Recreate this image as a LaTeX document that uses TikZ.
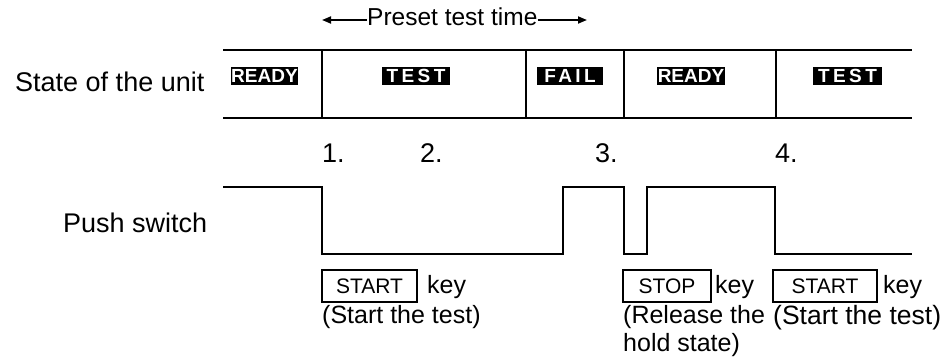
\documentclass[tikz,border=0pt]{standalone}
\usepackage{fontspec}
\setmainfont{Liberation Sans}
\newfontfamily\badgefont[LetterSpace=18]{Liberation Sans}
\usetikzlibrary{positioning,arrows.meta,calc}
\tikzset{
  % row captions on the left
  rowlabel/.style  = {font=\fontsize{27}{32}\selectfont, inner sep=0pt},
  % step numbers above the signal
  stepno/.style    = {font=\fontsize{27}{32}\selectfont, inner sep=0pt, anchor=base west},
  % black state badge
  badge/.style     = {fill=black, text=white, inner sep=0.5pt, minimum height=18pt,
                      font=\fontsize{19}{22}\selectfont\bfseries},
  spaced/.style    = {font=\badgefont\fontsize{19}{22}\selectfont\bfseries},
  % front-panel key
  keybox/.style    = {rectangle, draw, line width=1.1pt, minimum height=32pt,
                      inner sep=0pt, font=\fontsize{21}{24}\selectfont},
  % texts under the keys
  remark/.style    = {font=\fontsize{25}{28}\selectfont, inner sep=0pt, align=left},
  % lines
  tablerule/.style = {line width=2pt},
  signal/.style    = {line width=2pt},
  timespan/.style  = {-{Triangle[length=9pt,width=7pt]}, line width=1.8pt},
}
\begin{document}
\begin{tikzpicture}[x=1pt, y=-1pt]
  \useasboundingbox (0,0) rectangle (946,363);

  % --- preset test time ---
  \node[remark, font=\fontsize{24.5}{28}\selectfont, anchor=base west] (preset) at (367,26) {Preset test time};
  \coordinate (tbegin) at (322,20);
  \coordinate (tfinish) at (587,20);
  \draw[timespan] (preset.west|-tbegin) -- (tbegin);
  \draw[timespan] (preset.east|-tfinish) -- (tfinish);

  % --- state of the unit ---
  \node[rowlabel, anchor=base west] (unit) at (15,92) {State of the unit};
  \draw[tablerule] (223,50) -- (912,50);
  \draw[tablerule] (223,118) -- (912,118);
  \foreach \x in {322,526,624,776}
    \draw[tablerule] (\x,50) -- (\x,118);

  \node[badge, minimum width=65pt] (ready1) at (264.5,76) {READY};
  \node[badge, spaced, minimum width=68pt] (test1) at (416,76) {TEST};
  \node[badge, spaced, minimum width=66pt] (fail) at (570,76) {FAIL};
  \node[badge, minimum width=68pt] (ready2) at (691,76) {READY};
  \node[badge, spaced, minimum width=69pt] (test2) at (847.5,76) {TEST};

  % --- step numbers ---
  \node[stepno] (n1) at (322,163) {1.};
  \node[stepno] (n2) at (420,163) {2.};
  \node[stepno] (n3) at (595,163) {3.};
  \node[stepno] (n4) at (775,163) {4.};

  % --- push switch ---
  \node[rowlabel, anchor=base west] (push) at (63,233) {Push switch};
  \draw[signal] (223,187) -- (322,187) -- (322,254) -- (563,254) -- (563,187)
    -- (624,187) -- (624,254) -- (647,254) -- (647,187) -- (775,187)
    -- (775,254) -- (912,254);

  % --- keys ---
  \node[keybox, minimum width=95pt] (startA) at (369.5,286) {START};
  \node[remark, anchor=base west] (keyA) at (427,294) {key};
  \node[remark, anchor=north west] (whyA) at (322,305) {(Start the test)};

  \node[keybox, minimum width=88pt] (stopB) at (667,286) {STOP};
  \node[remark, anchor=base west] (keyB) at (715,294) {key};
  \node[remark, anchor=north west] (whyB) at (623,305) {(Release the\\hold state)};

  \node[keybox, minimum width=104pt] (startC) at (825,286) {START};
  \node[remark, anchor=base west] (keyC) at (883,294) {key};
  \node[remark, anchor=north west, font=\fontsize{26.5}{28}\selectfont] (whyC) at (773,305) {(Start the test)};
\end{tikzpicture}
\end{document}
